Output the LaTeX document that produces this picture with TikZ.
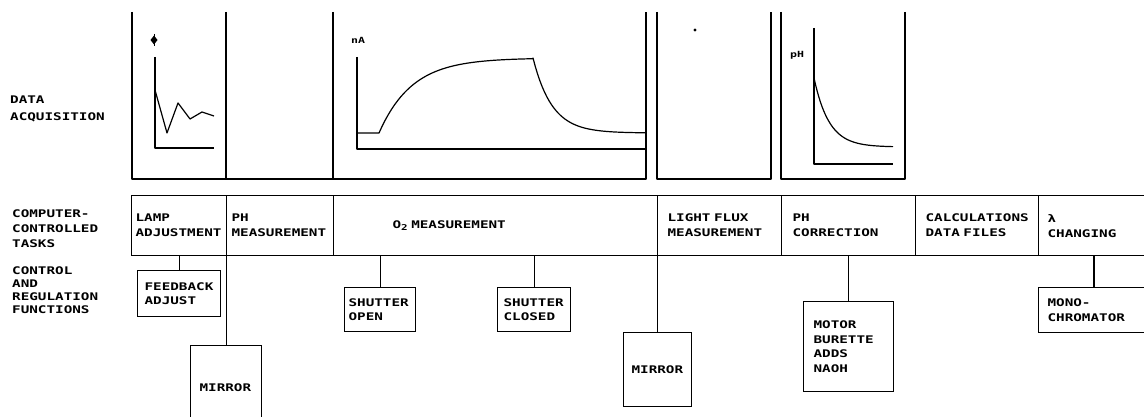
\documentclass[tikz,border=0pt]{standalone}
\usepackage{fontspec}
\newfontfamily\plotfont[FakeStretch=1.36]{DejaVu Sans Mono Bold}
\begin{document}
\begin{tikzpicture}[x=1pt,y=-1pt,
  ln/.style={line width=1.2pt, line join=round},
  thk/.style={line width=1.8pt},
  pf/.style={font=\plotfont\fontsize{10.5}{#1}\selectfont},
  lbl/.style={pf=#1, align=left, anchor=west, inner sep=0pt},
  cell/.style={draw, line width=1.2pt, anchor=north west, minimum height=60pt, align=left, inner ysep=0pt, pf=15},
  ctl/.style={draw, line width=1.2pt, anchor=north west, align=left, inner ysep=0pt, pf=14.5},
  conn/.style={line width=1.2pt},
  small/.style={font=\plotfont\fontsize{8.5}{8.5}\selectfont, inner sep=0pt}
]
\useasboundingbox (0,0) rectangle (1144,417);

% ---- left labels
\node[lbl=17] (la) at (10,109) {DATA\\ACQUISITION};
\node[lbl=15] (lb) at (12,229) {COMPUTER-\\CONTROLLED\\TASKS};
\node[lbl=12.8] (lc) at (12,290) {CONTROL\\AND\\REGULATION\\FUNCTIONS};

% ---- data acquisition panels
\draw[ln] (132,12) -- (132,179) -- (646,179) -- (646,12);
\draw[thk] (226,12) -- (226,179);
\draw[ln] (333,12) -- (333,179);
\draw[ln] (657,12) -- (657,179) -- (771,179) -- (771,12);
\draw[ln] (781,12) -- (781,179) -- (905,179) -- (905,12);
\draw[thk] (905,12) -- (905,33);

% panel 1
\fill (154,35.5) -- (157.5,40) -- (154,44.5) -- (150.5,40) -- cycle;
\draw[line width=0.9pt] (154,34) -- (154,46);
\draw[ln] (155,57) -- (155,148) -- (214,148);
\draw[ln] (155,90) -- (167,133) -- (178,103) -- (190,119) -- (202,112) -- (214,116);

% panel 3
\node[small] (nA) at (358,40) {nA};
\draw[ln] (357,57) -- (357,149) -- (645,149);
\draw[ln] (357,133) -- (379,133)
  -- plot[domain=379:533, samples=50] (\x, {58+75*exp(-(\x-379)/33)})
  -- plot[domain=533:645, samples=50] (\x, {133-75*exp(-(\x-533)/19)});

% panel 4
\fill (695,30) circle (1.6pt);

% panel 5
\node[small] (pH) at (797,55) {pH};
\draw[ln] (814,28) -- (814,164) -- (893,164);
\draw[ln] plot[domain=814:893, samples=50] (\x, {147-69*exp(-(\x-814)/15)});

% ---- computer controlled tasks
\node[cell, inner xsep=4pt, text width=87pt] (lamp) at (131,195) {LAMP\\ADJUSTMENT};
\node[cell, inner xsep=5pt, text width=97pt] (phm) at (226,195) {PH\\MEASUREMENT};
\node[cell, inner xsep=59pt, text width=206pt] (o2) at (333,195) {O\raisebox{-2pt}{\fontsize{8}{8}\selectfont 2} MEASUREMENT};
\node[cell, inner xsep=10pt, text width=104pt] (flux) at (657,195) {LIGHT FLUX\\MEASUREMENT};
\node[cell, inner xsep=11pt, text width=112pt] (phc) at (781,195) {PH\\CORRECTION};
\node[cell, inner xsep=10pt, text width=103pt] (calc) at (915,195) {CALCULATIONS\\DATA FILES};
\node[cell, inner xsep=9pt, text width=94pt] (lam) at (1038,195) {λ\\CHANGING};

% ---- control and regulation functions
\node[ctl, inner xsep=7pt, text width=69pt, minimum height=46pt] (fb) at (137,270) {FEEDBACK\\ADJUST};
\node[ctl, inner xsep=9pt, text width=53pt, minimum height=84pt] (m1) at (190,345) {MIRROR};
\node[ctl, inner xsep=4pt, text width=63pt, minimum height=44pt] (so) at (344,287) {SHUTTER\\OPEN};
\node[ctl, inner xsep=6pt, text width=61pt, minimum height=44pt] (sc) at (497,287) {SHUTTER\\CLOSED};
\node[ctl, inner xsep=8pt, text width=52pt, minimum height=74pt] (m2) at (623,332) {MIRROR};
\node[ctl, inner xsep=10pt, text width=70pt, minimum height=90pt] (mot) at (803,301) {MOTOR\\BURETTE\\ADDS\\NAOH};
\node[ctl, inner xsep=9pt, text width=92pt, minimum height=45pt] (mono) at (1038,287) {MONO-\\CHROMATOR};

% ---- connectors
\draw[conn] (fb.north) -- (fb.north |- lamp.south);
\draw[conn] (m1.north) -- (m1.north |- lamp.south);
\draw[conn] (so.north) -- (so.north |- o2.south);
\draw[conn] (sc.north) -- (sc.north |- o2.south);
\draw[conn] (m2.north) -- (m2.north |- flux.south);
\draw[conn] (mot.north) -- (mot.north |- phc.south);
\draw[thk] (mono.north) -- (mono.north |- lam.south);
\end{tikzpicture}
\end{document}
